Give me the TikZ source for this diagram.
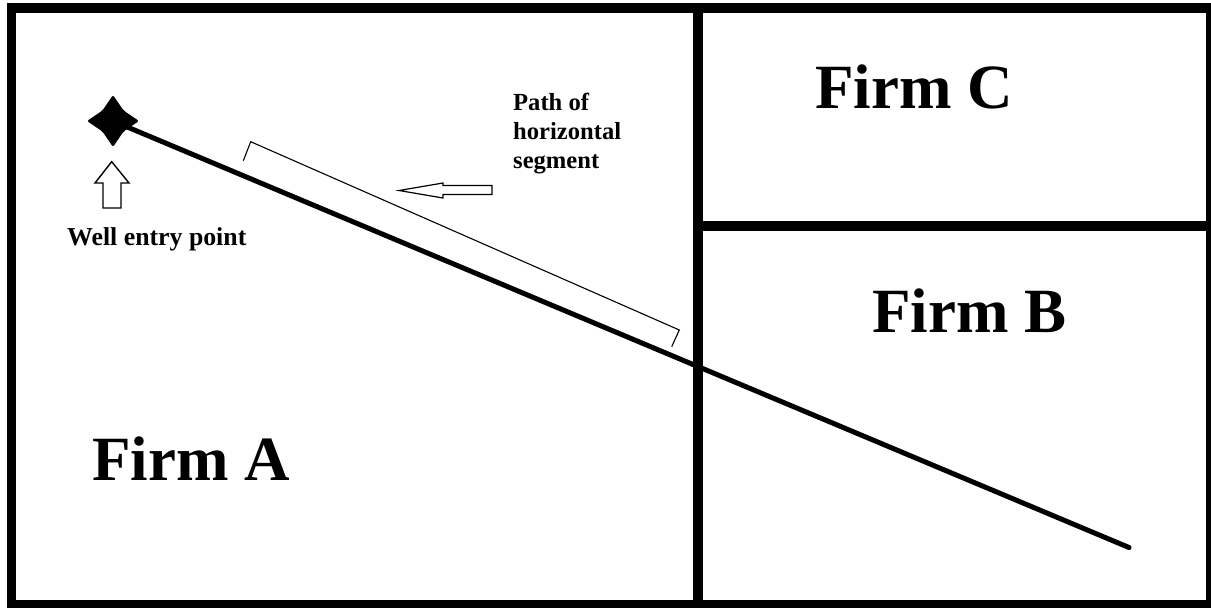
\documentclass[tikz,border=0pt]{standalone}
\usepackage{fontspec}
\setmainfont{Liberation Serif}
\begin{document}
\begin{tikzpicture}[x=1pt,y=-1pt,
  frame/.style={line width=9.5pt},
  divider/.style={line width=10pt},
  firm/.style={font=\fontsize{63}{70}\selectfont\bfseries, inner sep=0pt, anchor=base west},
  small/.style={font=\fontsize{25.8}{29.5}\selectfont\bfseries, inner sep=0pt, anchor=base west, align=left},
  well/.style={line width=5pt, line cap=round},
  bracket/.style={line width=1.1pt},
  hollow/.style={line width=1.4pt, fill=white, line join=miter}]
\useasboundingbox (0,0) rectangle (1211,608);
\fill[white] (0,0) rectangle (1211,608);
% frame and dividers
\draw[frame] (11.5,8) rectangle (1210.5,604.5);
\coordinate (vtop) at (698.3,8);
\coordinate (vbot) at (698.3,604.5);
\coordinate (hleft) at (698.3,225.7);
\coordinate (hright) at (1210.5,225.7);
\draw[divider] (vtop) -- (vbot);
\draw[divider] (hleft) -- (hright);
% well
\coordinate (well) at (113,121);
\coordinate (wellend) at (1129,547.5);
\draw[well] (well) -- (wellend);
\fill[shift={(well)}, rounded corners=2pt] (26,0) -- (10.5,10.5) -- (0,26) -- (-10.5,10.5) -- (-26,0) -- (-10.5,-10.5) -- (0,-26) -- (10.5,-10.5) -- cycle;
\fill[shift={(well)}] (0,0) circle (14);
% up arrow
\draw[hollow] (111.7,161.7) -- (129,183) -- (121,183) -- (121,208) -- (103,208) -- (103,183) -- (95,183) -- cycle;
% bracket
\draw[bracket] (243.3,160.7) -- (250.7,141.7) -- (679.3,330) -- (671.7,346.7);
% left arrow
\draw[hollow, line width=1.2pt] (399,190.5) -- (443,183) -- (443,185.5) -- (492,185.5) -- (492,194.5) -- (443,194.5) -- (443,198) -- cycle;
% labels
\node[firm] (A) at (92,480) {Firm A};
\node[firm] (B) at (872,332.7) {Firm B};
\node[firm] (C) at (815,108.3) {Firm C};
\node[small] (entry) at (67,245) {Well entry point};
\node[small, font=\fontsize{24.6}{29}\selectfont\bfseries] (path) at (513,168) {Path of\\horizontal\\segment};
\end{tikzpicture}
\end{document}
